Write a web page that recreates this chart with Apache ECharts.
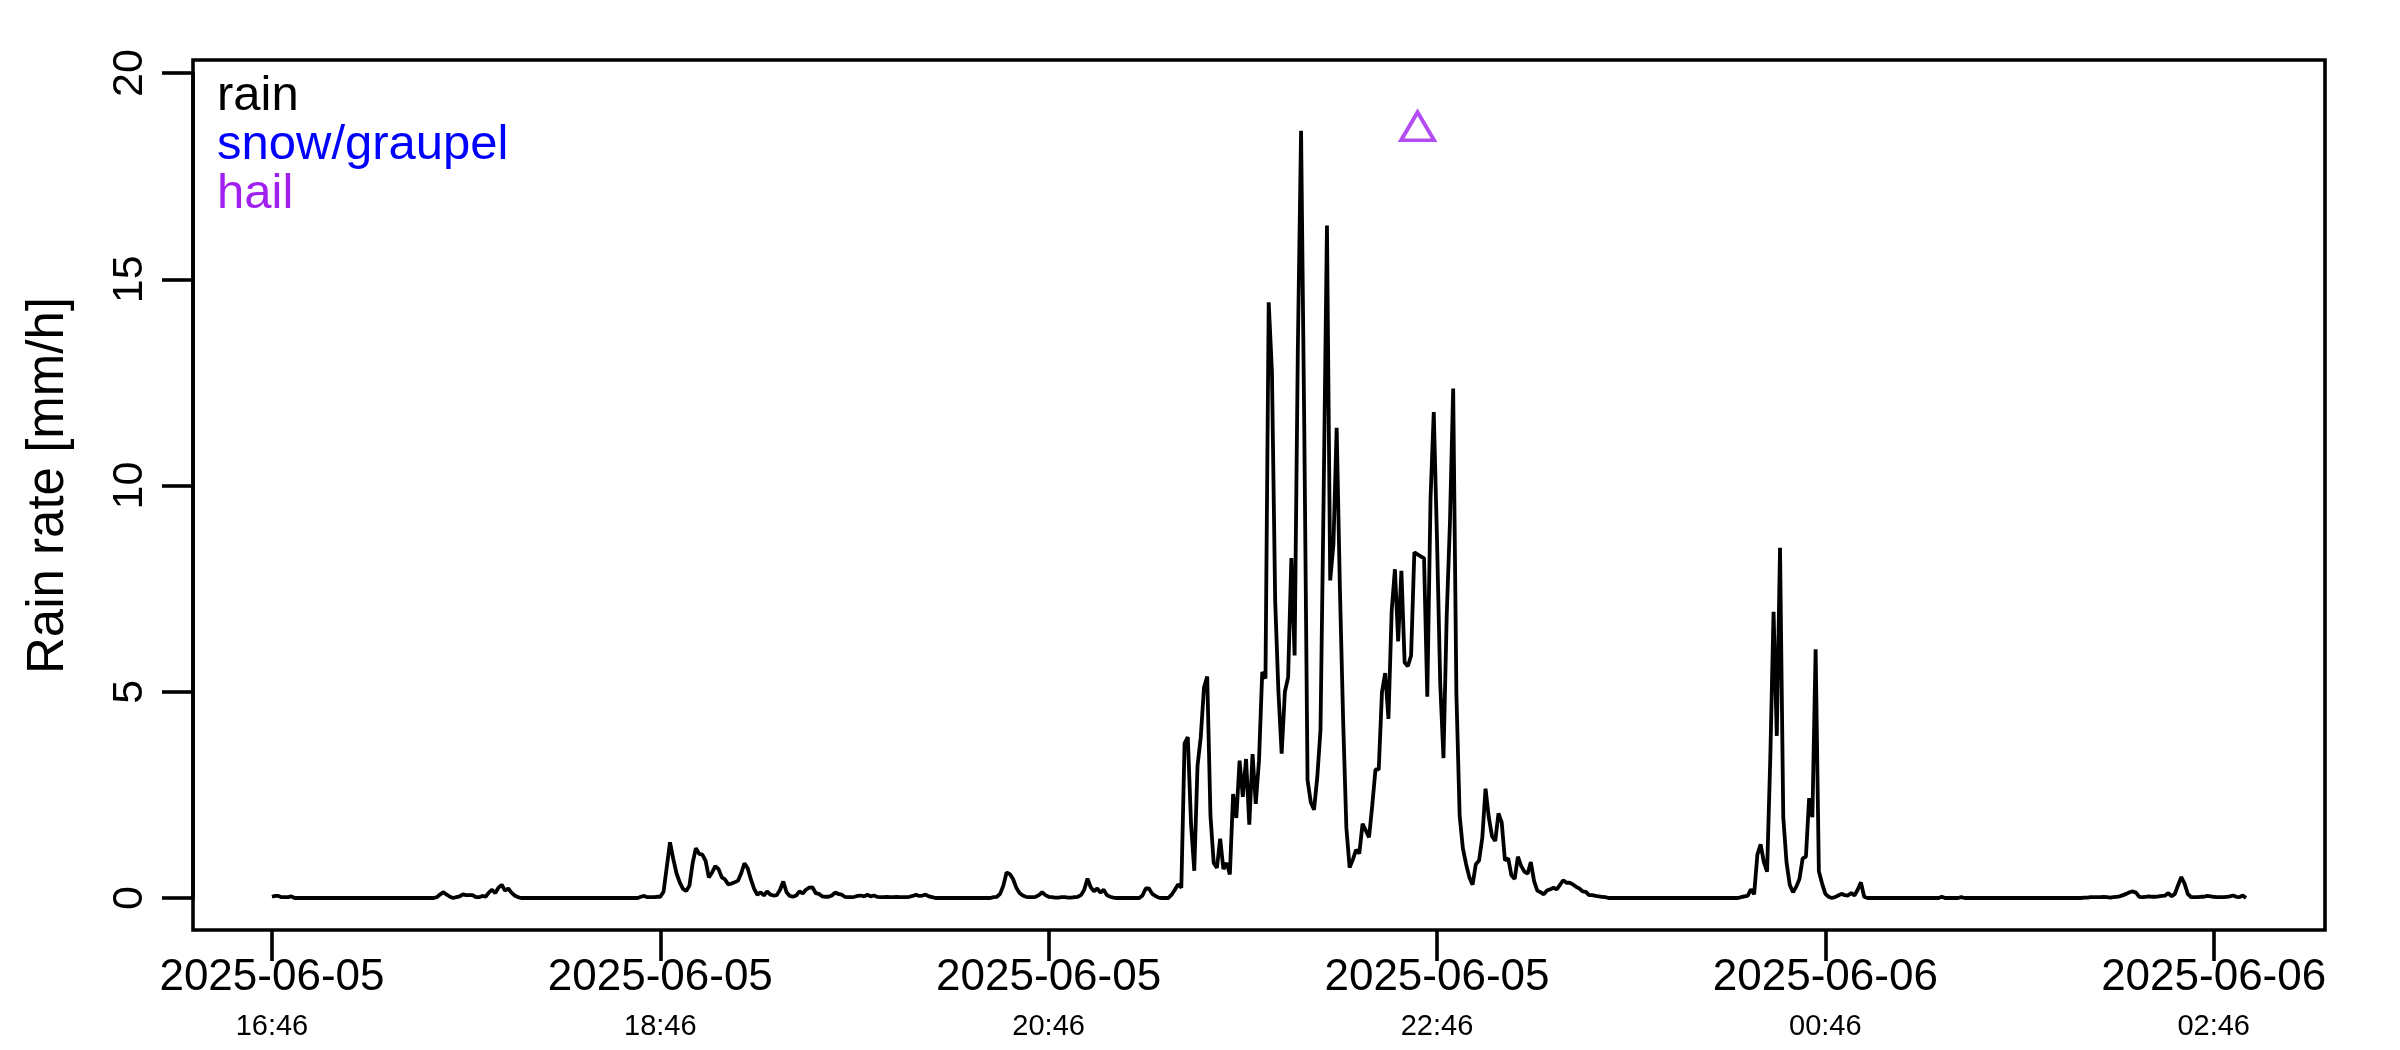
<!DOCTYPE html>
<html>
<head>
<meta charset="utf-8">
<script src="https://cdn.jsdelivr.net/npm/echarts@6/dist/echarts.min.js"></script>
<style>
  html, body { margin: 0; padding: 0; background: #ffffff; }
  #chart { width: 2400px; height: 1050px; }
</style>
</head>
<body>
<div id="chart"></div>
<script>
// ---- data (minutes after 2025-06-05 16:46 UTC, rain rate mm/h, 1-min resolution) ----
const START_UTC = Date.UTC(2025, 5, 5, 16, 46);

const rainSegA_start = 0;
const rainSegA = [0.03, 0.05, 0.05, 0.02, 0.02, 0.02, 0.04, 0.0];

const rainSegB_start = 50;
const rainSegB = [0.0, 0.02, 0.09, 0.14, 0.08, 0.03, 0.0, 0.02, 0.04, 0.09,
                  0.07, 0.07, 0.07, 0.02, 0.02, 0.05, 0.03, 0.13, 0.2, 0.12,
                  0.25, 0.32, 0.18, 0.23, 0.13, 0.06, 0.02, 0.0];

const rainSegC_start = 113;
const rainSegC = [0.0, 0.03, 0.05, 0.02, 0.02, 0.02, 0.03, 0.03, 0.15, 0.75,
                  1.35, 0.95, 0.6, 0.38, 0.22, 0.17, 0.3, 0.85, 1.21, 1.07,
                  1.05, 0.9, 0.5, 0.62, 0.77, 0.7, 0.5, 0.45, 0.33, 0.35,
                  0.38, 0.42, 0.6, 0.84, 0.72, 0.45, 0.22, 0.08, 0.14, 0.06,
                  0.16, 0.08, 0.06, 0.07, 0.2, 0.4, 0.14, 0.05, 0.03, 0.06,
                  0.16, 0.11, 0.2, 0.25, 0.26, 0.12, 0.1, 0.04, 0.03, 0.03,
                  0.06, 0.13, 0.1, 0.08, 0.03, 0.02, 0.02, 0.03, 0.05, 0.06,
                  0.04, 0.08, 0.04, 0.06, 0.03, 0.02, 0.02, 0.03, 0.02, 0.02,
                  0.03, 0.02, 0.02, 0.02, 0.03, 0.05, 0.08, 0.05, 0.06, 0.08,
                  0.04, 0.02, 0.0];

const rainSegD_start = 222;
const rainSegD = [0.0, 0.02, 0.03, 0.1, 0.3, 0.62, 0.58, 0.46, 0.25, 0.12,
                  0.06, 0.03, 0.02, 0.02, 0.03, 0.07, 0.14, 0.07, 0.03, 0.02,
                  0.01, 0.01, 0.02, 0.02, 0.01, 0.01, 0.02, 0.03, 0.07, 0.2,
                  0.47, 0.26, 0.16, 0.23, 0.13, 0.2, 0.07, 0.03, 0.01, 0.0,
                  0.0, 0.0, 0.0, 0.0, 0.0, 0.0, 0.0, 0.06, 0.23, 0.23,
                  0.1, 0.05, 0.01, 0.0, 0.0, 0.0, 0.08, 0.2, 0.33, 0.25,
                  3.75, 3.9, 1.8, 0.66, 3.2, 3.9, 5.1, 5.37, 2.0, 0.85,
                  0.73, 1.44, 0.7, 0.85, 0.57, 2.52, 1.94, 3.33, 2.45, 3.37,
                  1.78, 3.49, 2.28, 3.33, 5.48, 5.32, 14.44, 12.75, 7.2, 5.0,
                  3.5, 5.0, 5.35, 8.24, 5.88, 13.3, 18.6, 11.3, 2.86, 2.32,
                  2.14, 2.92, 4.07, 9.9, 16.3, 7.7, 8.58, 11.4, 7.5, 4.3,
                  1.7, 0.74, 0.93, 1.17, 1.08, 1.8, 1.64, 1.47, 2.25, 3.12,
                  3.12, 5.0, 5.45, 4.34, 6.96, 7.97, 6.22, 7.93, 5.71, 5.62,
                  5.88, 8.38, 8.33, 8.28, 8.24, 4.88, 9.66, 11.78, 8.71, 5.2,
                  3.39, 6.83, 9.1, 12.35, 4.94, 2.0, 1.2, 0.82, 0.5, 0.32,
                  0.82, 0.91, 1.46, 2.65, 1.96, 1.5, 1.38, 2.05, 1.83, 0.91,
                  0.96, 0.55, 0.46, 1.0, 0.78, 0.64, 0.59, 0.87, 0.41, 0.18,
                  0.14, 0.09, 0.18, 0.21, 0.25, 0.21, 0.32, 0.43, 0.37, 0.37,
                  0.33, 0.27, 0.23, 0.16, 0.15, 0.07, 0.07, 0.05, 0.04, 0.03,
                  0.02, 0.0];

const rainSegE_start = 453;
const rainSegE = [0.0, 0.02, 0.04, 0.05, 0.21, 0.09, 1.05, 1.3, 0.87, 0.64,
                  3.42, 6.94, 3.93, 8.49, 1.96, 0.87, 0.32, 0.14, 0.27, 0.46,
                  0.96, 1.0, 2.42, 1.96, 6.03, 0.65, 0.35, 0.1, 0.03, 0.0,
                  0.02, 0.06, 0.1, 0.07, 0.06, 0.12, 0.06, 0.2, 0.38, 0.03, 0.0];

const rainSegF_start = 515;
const rainSegF = [0.0, 0.03, 0.0];

const rainSegG_start = 521;
const rainSegG = [0.0, 0.02, 0.0];

const rainSegH_start = 559;
const rainSegH = [0.0, 0.01, 0.01, 0.02, 0.02, 0.02, 0.02, 0.03, 0.02, 0.01,
                  0.02, 0.03, 0.04, 0.07, 0.1, 0.14, 0.16, 0.13, 0.03, 0.02,
                  0.03, 0.04, 0.03, 0.03, 0.04, 0.05, 0.06, 0.12, 0.04, 0.1,
                  0.31, 0.51, 0.35, 0.1, 0.02, 0.02, 0.02, 0.03, 0.03, 0.05,
                  0.04, 0.03, 0.02, 0.02, 0.02, 0.03, 0.04, 0.06, 0.03, 0.02,
                  0.06, 0.0];

const hailMinutes = [354];
const hailRate = [18.6];

const snowMinutes = [];
const snowRate = [];

const tickMinutes = [0, 120, 240, 360, 480, 600];

// ---- build series data (x = minutes after START_UTC) ----
const segments = [
  [rainSegA_start, rainSegA], [rainSegB_start, rainSegB], [rainSegC_start, rainSegC],
  [rainSegD_start, rainSegD], [rainSegE_start, rainSegE], [rainSegF_start, rainSegF],
  [rainSegG_start, rainSegG], [rainSegH_start, rainSegH]
];
const rainData = [];
segments.forEach(([s, vals]) => vals.forEach((v, i) => rainData.push([s + i, v])));
const hailData = hailMinutes.map((m, i) => [m, hailRate[i]]);
const snowData = snowMinutes.map((m, i) => [m, snowRate[i]]);

const tFirst = rainData[0][0], tLast = rainData[rainData.length - 1][0];
const ext = 0.04 * (tLast - tFirst);

const pad = n => String(n).padStart(2, '0');
function fmtTick(minutes) {
  const d = new Date(START_UTC + Math.round(minutes) * 60000);
  const date = d.getUTCFullYear() + '-' + pad(d.getUTCMonth() + 1) + '-' + pad(d.getUTCDate());
  const time = pad(d.getUTCHours()) + ':' + pad(d.getUTCMinutes());
  return '{d|' + date + '}\n{t|' + time + '}';
}

const FONT = 'Liberation Sans, Arial, Helvetica, sans-serif';
const LW = 3.6;
const chart = echarts.init(document.getElementById('chart'), null, { renderer: 'canvas' });
chart.setOption({
  animation: false,
  backgroundColor: '#ffffff',
  grid: { left: 193, right: 75, top: 73, bottom: 152, containLabel: false },
  legend: {
    orient: 'vertical', left: 212, top: 72, padding: 0, itemGap: 0,
    icon: 'none', itemWidth: 0, itemHeight: 1, selectedMode: false,
    textStyle: { fontFamily: FONT, fontSize: 49, lineHeight: 49 },
    data: [
      { name: 'rain', textStyle: { color: '#000000' } },
      { name: 'snow/graupel', textStyle: { color: '#0000FF' } },
      { name: 'hail', textStyle: { color: '#A020F0' } }
    ]
  },
  xAxis: {
    type: 'value',
    min: tFirst - ext, max: tLast + ext,
    offset: 32,
    axisLine: { show: false, onZero: false },
    splitLine: { show: false },
    axisTick: {
      show: true, inside: false, length: 31, lineStyle: { color: '#000', width: LW },
      customValues: tickMinutes
    },
    axisLabel: {
      show: true, margin: 20, color: '#000',
      customValues: tickMinutes,
      formatter: v => fmtTick(v),
      rich: {
        d: { fontFamily: FONT, fontSize: 44, lineHeight: 56, color: '#000' },
        t: { fontFamily: FONT, fontSize: 29, lineHeight: 42, color: '#000' }
      }
    }
  },
  yAxis: {
    type: 'value', min: 0, max: 20, interval: 5,
    name: 'Rain rate [mm/h]', nameLocation: 'middle', nameGap: 119,
    nameTextStyle: { fontFamily: FONT, fontSize: 51, color: '#000' },
    axisLine: { show: true, onZero: false, lineStyle: { color: '#000', width: LW } },
    axisTick: { show: true, inside: false, length: 31, lineStyle: { color: '#000', width: LW } },
    splitLine: { show: false },
    axisLabel: {
      rotate: 90, margin: 41, color: '#000', fontFamily: FONT, fontSize: 43, lineHeight: 43
    }
  },
  graphic: [{
    type: 'rect', silent: true, z: 100,
    shape: { x: 193, y: 60, width: 2132, height: 870 },
    style: { fill: 'none', stroke: '#000', lineWidth: LW }
  }],
  series: [
    {
      name: 'rain', type: 'line', data: rainData, showSymbol: false, symbol: 'none',
      color: '#000000', lineStyle: { color: '#000000', width: 3.8 }, z: 3
    },
    {
      name: 'snow/graupel', type: 'line', data: snowData, showSymbol: false,
      color: '#0000FF', lineStyle: { color: '#0000FF', width: 3.8 }
    },
    {
      name: 'hail', type: 'scatter', data: hailData, symbol: 'triangle',
      symbolSize: [33, 28], symbolOffset: [0, -4.5], color: '#A020F0',
      itemStyle: { color: 'rgba(0,0,0,0)', borderColor: '#A020F0', borderWidth: 3.8 }, z: 4
    }
  ]
});
</script>
</body>
</html>
